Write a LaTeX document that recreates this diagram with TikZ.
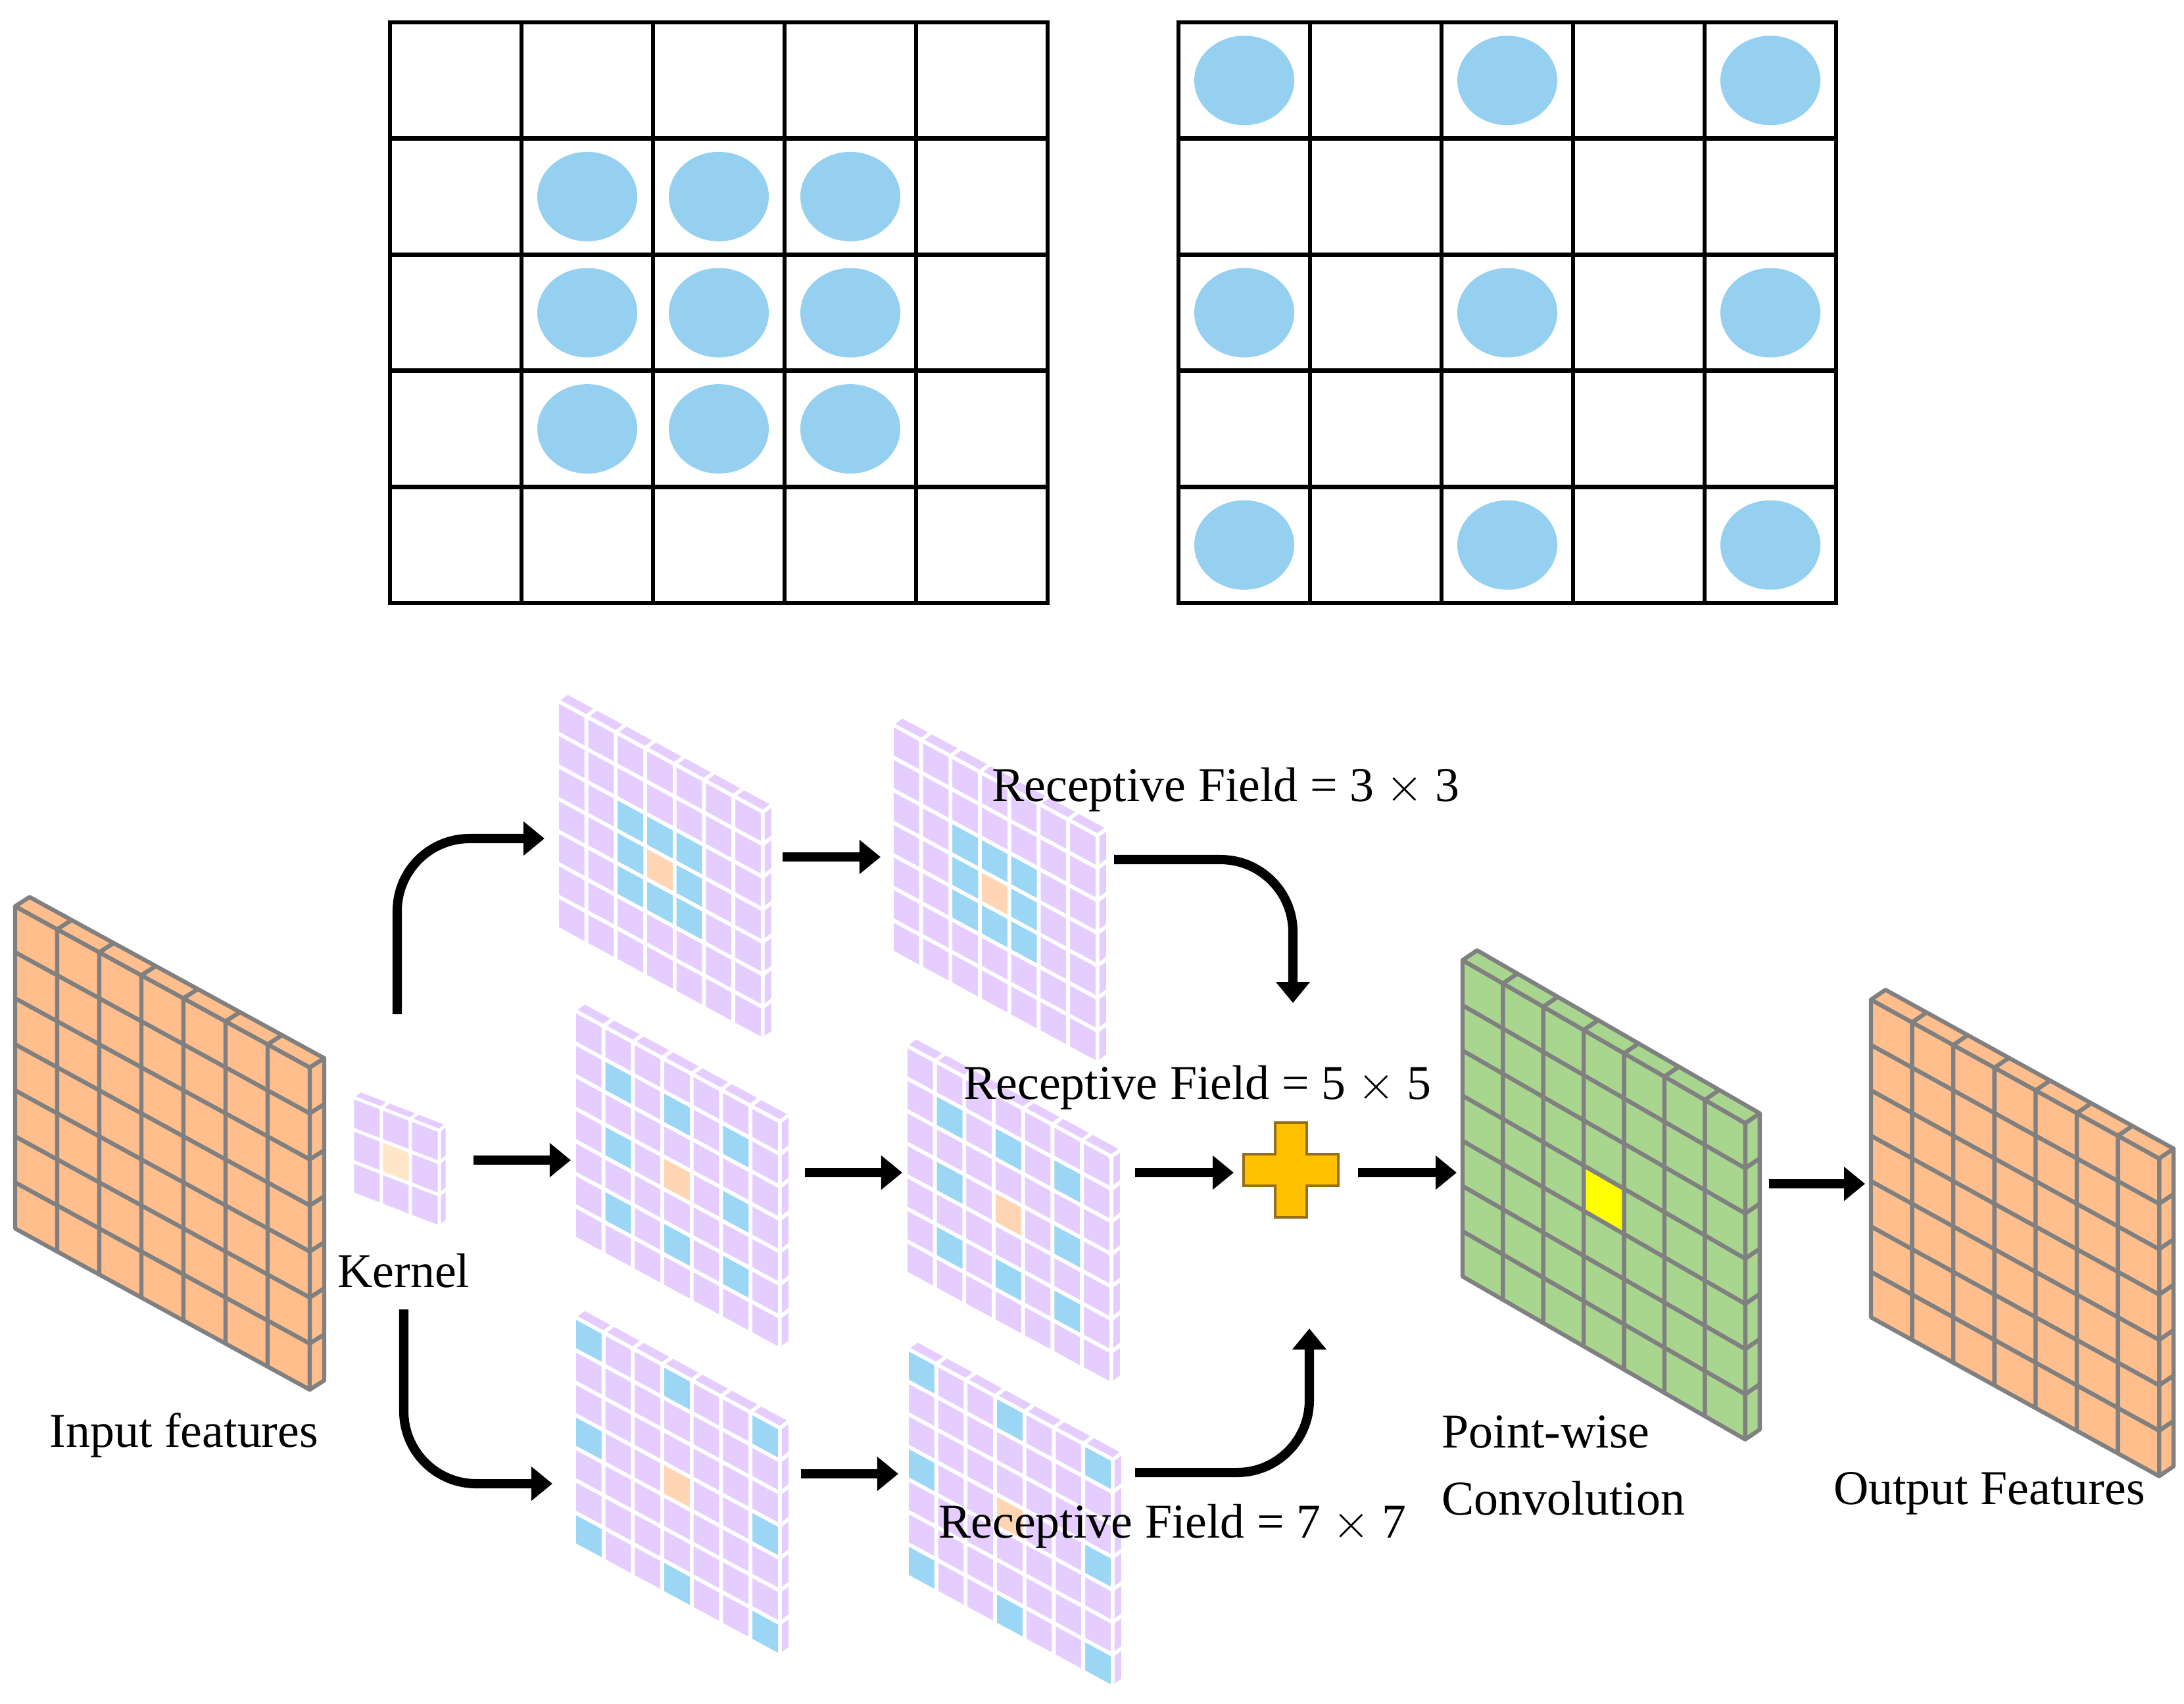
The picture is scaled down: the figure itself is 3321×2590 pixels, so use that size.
\documentclass[tikz,border=0pt]{standalone}
\usepackage{fontspec}
\setmainfont{Liberation Serif}
\usetikzlibrary{arrows.meta}
\definecolor{cblue}{RGB}{150,208,240}
\definecolor{kblue}{RGB}{155,215,245}
\definecolor{purp}{RGB}{229,206,255}
\definecolor{orng}{RGB}{255,190,140}
\definecolor{lorng}{RGB}{255,213,180}
\definecolor{korng}{RGB}{255,230,200}
\definecolor{grn}{RGB}{169,214,143}
\definecolor{ylw}{RGB}{255,255,0}
\definecolor{plus}{RGB}{255,192,0}
\definecolor{plusb}{RGB}{150,110,20}
\newcommand\slab[9]{%
  \def\gx{#1}\def\gy{#2}\def\gw{#4}\def\gh{#5}\def\gs{#6}\def\gdx{#7}\def\gdy{#8}%
  \pgfmathtruncatemacro\gm{#3-1}%
  \foreach \i in {0,...,\gm}{%
    \foreach \j in {0,...,\gm}{%
      \path[cellst,fill=#9] ({#1+\i*#4},{#2+\i*#6+\j*#5}) -- ({#1+(\i+1)*#4},{#2+(\i+1)*#6+\j*#5}) -- ({#1+(\i+1)*#4},{#2+(\i+1)*#6+(\j+1)*#5}) -- ({#1+\i*#4},{#2+\i*#6+(\j+1)*#5}) -- cycle;}
    \path[cellst,fill=#9] ({#1+\i*#4},{#2+\i*#6}) -- ({#1+(\i+1)*#4},{#2+(\i+1)*#6}) -- ({#1+(\i+1)*#4+#7},{#2+(\i+1)*#6+#8}) -- ({#1+\i*#4+#7},{#2+\i*#6+#8}) -- cycle;
    \path[cellst,fill=#9] ({#1+#3*#4},{#2+#3*#6+\i*#5}) -- ({#1+#3*#4+#7},{#2+#3*#6+\i*#5+#8}) -- ({#1+#3*#4+#7},{#2+#3*#6+(\i+1)*#5+#8}) -- ({#1+#3*#4},{#2+#3*#6+(\i+1)*#5}) -- cycle;
  }}
\newcommand\hl[3]{\path[cellst,fill=#3] ({\gx+#1*\gw},{\gy+#1*\gs+#2*\gh}) -- ({\gx+(#1+1)*\gw},{\gy+(#1+1)*\gs+#2*\gh}) -- ({\gx+(#1+1)*\gw},{\gy+(#1+1)*\gs+(#2+1)*\gh}) -- ({\gx+#1*\gw},{\gy+#1*\gs+(#2+1)*\gh}) -- cycle;}
\newcommand\pgrid[3]{\begin{scope}[cellst/.style={draw=white,line width=1.6pt}]
  \slab{#1}{#2}{7}{44.7}{49.5}{24.2}{16}{-12}{purp}\hl{3}{3}{lorng}
  \foreach \a/\b in {#3}{\hl{\a}{\b}{kblue}}\end{scope}}
\begin{document}
\begin{tikzpicture}[x=0.01cm,y=-0.01cm,
  lbl/.style={font=\fontsize{21}{25}\selectfont,inner sep=0pt},
  arr/.style={line width=4pt,-{Triangle[length=0.32cm,width=0.5cm]}},
  grd/.style={line width=1.9pt,draw=black},
  dot/.style={fill=cblue,draw=none}]
\useasboundingbox (0,0) rectangle (3321,2590);
% top grids
\foreach \c in {0,...,4}{\foreach \r in {0,...,4}{
  \draw[grd] ({593+\c*200},{34+\r*176.6}) rectangle ++(200,176.6);
  \draw[grd] ({1792+\c*200},{34+\r*176.6}) rectangle ++(200,176.6);}}
\foreach \c in {1,2,3}{\foreach \r in {1,2,3}{\fill[dot] ({693+\c*200},{122.3+\r*176.6}) ellipse (76 and 68);}}
\foreach \c in {0,2,4}{\foreach \r in {0,2,4}{\fill[dot] ({1892+\c*200},{122.3+\r*176.6}) ellipse (76 and 68);}}
% feature maps
\begin{scope}[cellst/.style={draw=black!50,line width=1.8pt,line join=round}]
\slab{23}{1378}{7}{64}{70}{35}{22}{-14}{orng}
\slab{2224}{1460}{7}{61.4}{68.7}{35.4}{22}{-15}{grn}\hl{3}{3}{ylw}
\slab{2845}{1520}{7}{62.6}{69}{34.5}{22}{-15}{orng}
\end{scope}
% kernel
\begin{scope}[cellst/.style={draw=white,line width=1.4pt}]
\slab{536}{1668}{3}{44}{49}{17}{12}{-10}{purp}\hl{1}{1}{korng}
\end{scope}
\pgrid{847}{1065}{2/2,3/2,4/2,2/3,4/3,2/4,3/4,4/4}
\pgrid{1356}{1101}{2/2,3/2,4/2,2/3,4/3,2/4,3/4,4/4}
\pgrid{873}{1536}{1/1,3/1,5/1,1/3,5/3,1/5,3/5,5/5}
\pgrid{1377}{1589}{1/1,3/1,5/1,1/3,5/3,1/5,3/5,5/5}
\pgrid{873}{2002}{0/0,3/0,6/0,0/3,6/3,0/6,3/6,6/6}
\pgrid{1379}{2050}{0/0,3/0,6/0,0/3,6/3,0/6,3/6,6/6}
% plus
\path[draw=plusb,fill=plus,line width=1pt] (1939,1707) -- (1987,1707) -- (1987,1755) -- (2035,1755) -- (2035,1803) -- (1987,1803) -- (1987,1851) -- (1939,1851) -- (1939,1803) -- (1891,1803) -- (1891,1755) -- (1939,1755) -- cycle;
\coordinate (plus) at (1963,1779);
% connector coordinates
\coordinate (kR) at (720,1764); \coordinate (m1L) at (868,1764);
\coordinate (kT) at (604,1542); \coordinate (t1L) at (828,1275);
\coordinate (kB) at (614,1991); \coordinate (b1L) at (840,2256);
\coordinate (t1R) at (1190,1303); \coordinate (t2L) at (1339,1303);
\coordinate (m1R) at (1224,1783); \coordinate (m2L) at (1372,1783);
\coordinate (b1R) at (1218,2241); \coordinate (b2L) at (1366,2241);
\coordinate (t2R) at (1694,1307); \coordinate (pT) at (1966,1525);
\coordinate (m2R) at (1726,1783); \coordinate (pL) at (1876,1783);
\coordinate (b2R) at (1726,2239); \coordinate (pB) at (1991,2020);
\coordinate (pR) at (2065,1783); \coordinate (gL) at (2215,1783);
\coordinate (gR) at (2690,1800); \coordinate (oL) at (2836,1800);
\draw[arr] (kR) -- (m1L);
\draw[arr,rounded corners=1.1cm] (kT) |- (t1L);
\draw[arr,rounded corners=1.1cm] (kB) |- (b1L);
\draw[arr] (t1R) -- (t2L);
\draw[arr] (m1R) -- (m2L);
\draw[arr] (b1R) -- (b2L);
\draw[arr,rounded corners=1.1cm] (t2R) -| (pT);
\draw[arr] (m2R) -- (pL);
\draw[arr,rounded corners=1.1cm] (b2R) -| (pB);
\draw[arr] (pR) -- (gL);
\draw[arr] (gR) -- (oL);
% labels
\node[lbl] (rf3) at (1864,1201) {Receptive Field = 3 $\times$ 3};
\node[lbl] (rf5) at (1821,1654) {Receptive Field = 5 $\times$ 5};
\node[lbl] (rf7) at (1783,2321) {Receptive Field = 7 $\times$ 7};
\node[lbl] (kl) at (614,1932) {Kernel};
\node[lbl] (il) at (280,2182) {Input features};
\node[lbl,anchor=west,align=left] (pl) at (2192,2228) {Point-wise\\[4pt]Convolution};
\node[lbl] (ol) at (3025,2271) {Output Features};
\end{tikzpicture}
\end{document}
